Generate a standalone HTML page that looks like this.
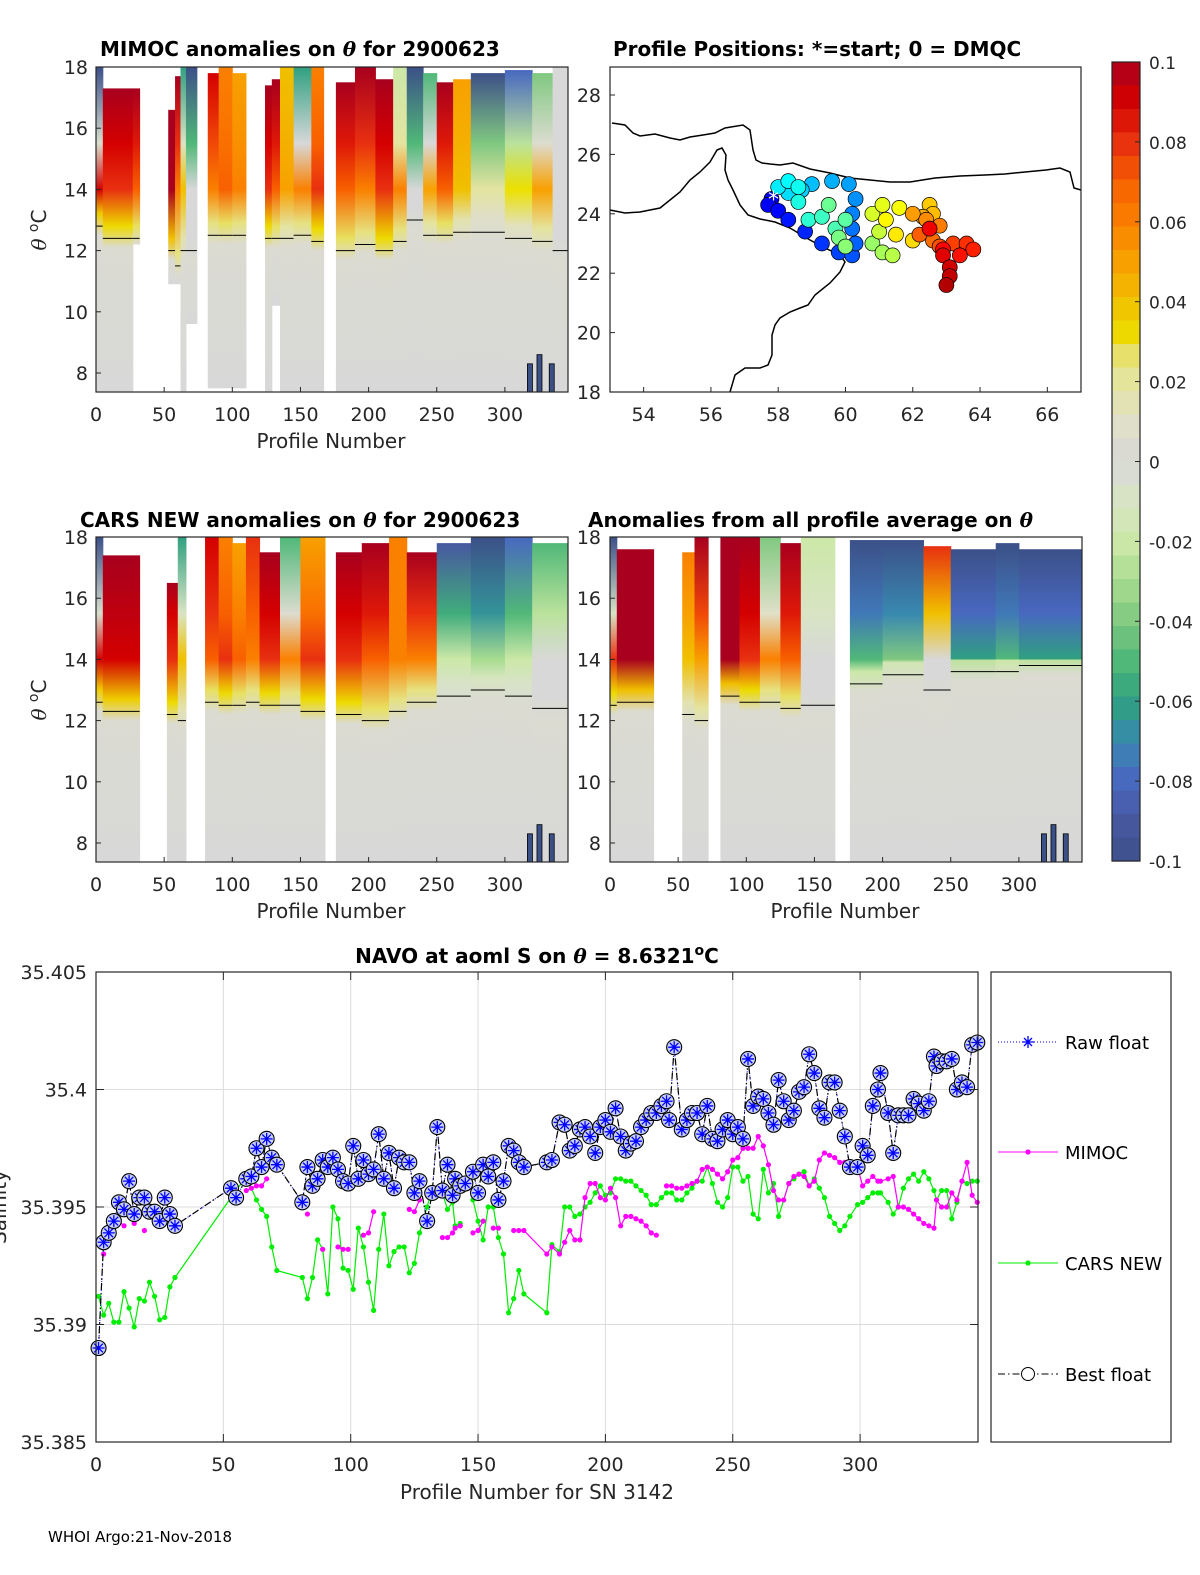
<!DOCTYPE html>
<html><head><meta charset="utf-8">
<style>
html,body{margin:0;padding:0;background:#fff;}
svg{display:block;font-family:"DejaVu Sans","Liberation Sans",sans-serif;}
</style></head>
<body>
<svg id="fig" width="1200" height="1575" viewBox="0 0 1200 1575" xmlns="http://www.w3.org/2000/svg">
<defs id="defs"></defs>
<rect x="0" y="0" width="1200" height="1575" fill="#fff"/>
<g id="g-mimoc"></g>
<g id="g-cars"></g>
<g id="g-avg"></g>
<g id="g-map"></g>
<g id="g-cbar"></g>
<g id="g-sal"></g>
<text x="100" y="56" font-size="20" font-weight="bold">MIMOC anomalies on <tspan font-style="italic" font-family="DejaVu Serif,serif">θ</tspan>  for 2900623</text>
<text x="613" y="56" font-size="20" font-weight="bold">Profile Positions: *=start; 0 = DMQC</text>
<text x="80" y="527" font-size="20" font-weight="bold">CARS NEW anomalies on <tspan font-style="italic" font-family="DejaVu Serif,serif">θ</tspan> for 2900623</text>
<text x="588" y="527" font-size="20" font-weight="bold">Anomalies from all profile average on <tspan font-style="italic" font-family="DejaVu Serif,serif">θ</tspan></text>
<text x="537" y="963" font-size="20" font-weight="bold" text-anchor="middle">NAVO at aoml S on <tspan font-style="italic" font-family="DejaVu Serif,serif">θ</tspan> = 8.6321<tspan dy="-8" font-size="14">o</tspan><tspan dy="8">C</tspan></text>
<text x="331" y="448" font-size="20" fill="#262626" text-anchor="middle">Profile Number</text>
<text x="331" y="918" font-size="20" fill="#262626" text-anchor="middle">Profile Number</text>
<text x="845" y="918" font-size="20" fill="#262626" text-anchor="middle">Profile Number</text>
<text x="537" y="1499" font-size="20" fill="#262626" text-anchor="middle">Profile Number for SN 3142</text>
<text transform="translate(46,230) rotate(-90)" font-size="20" fill="#262626" text-anchor="middle"><tspan font-style="italic" font-family="DejaVu Serif,serif">θ</tspan> <tspan dy="-8" font-size="14">o</tspan><tspan dy="8">C</tspan></text>
<text transform="translate(46,700) rotate(-90)" font-size="20" fill="#262626" text-anchor="middle"><tspan font-style="italic" font-family="DejaVu Serif,serif">θ</tspan> <tspan dy="-8" font-size="14">o</tspan><tspan dy="8">C</tspan></text>
<text transform="translate(6,1207) rotate(-90)" font-size="20" fill="#262626" text-anchor="middle">Salinity</text>
<text x="48" y="1542" font-size="15" fill="#000">WHOI Argo:21-Nov-2018</text>
</svg>
<script>
// ---------- Salinity chart data ----------
const floatProfiles=[1,3,5,7,9,11,13,15,17,19,21,23,25,27,29,31,53,55,59,61,63,65,67,69,71,81,83,85,87,89,91,93,95,97,99,101,103,105,107,109,111,113,115,117,119,121,123,125,127,130,132,134,136,138,140,141,143,145,148,150,152,154,156,158,160,162,164,166,168,177,179,182,184,186,188,190,192,194,196,198,200,202,204,206,208,210,212,214,216,218,220,222,224,225,227,230,232,234,236,238,240,242,244,246,248,250,252,254,256,258,260,262,264,266,268,270,272,274,276,278,280,282,284,286,288,290,292,294,296,299,301,303,305,307,308,311,313,315,317,319,321,323,325,327,329,330,332,334,336,338,340,342,344,346];
const floatSal=[35.3890,35.3935,35.3939,35.3944,35.3952,35.3949,35.3961,35.3947,35.3954,35.3954,35.3948,35.3948,35.3944,35.3954,35.3947,35.3942,35.3958,35.3954,35.3962,35.3963,35.3975,35.3967,35.3979,35.3971,35.3968,35.3952,35.3967,35.3959,35.3962,35.3970,35.3967,35.3971,35.3966,35.3961,35.3960,35.3976,35.3962,35.3970,35.3964,35.3966,35.3981,35.3962,35.3973,35.3958,35.3971,35.3969,35.3969,35.3956,35.3961,35.3944,35.3956,35.3984,35.3957,35.3968,35.3955,35.3962,35.3959,35.3960,35.3965,35.3956,35.3968,35.3963,35.3969,35.3953,35.3961,35.3976,35.3974,35.3969,35.3967,35.3969,35.3970,35.3986,35.3985,35.3974,35.3976,35.3983,35.3984,35.3980,35.3973,35.3984,35.3987,35.3982,35.3992,35.3980,35.3974,35.3977,35.3978,35.3984,35.3987,35.3990,35.3990,35.3993,35.3995,35.3987,35.4018,35.3983,35.3987,35.3990,35.3990,35.3981,35.3993,35.3979,35.3978,35.3983,35.3987,35.3981,35.3984,35.3979,35.4013,35.3993,35.3997,35.3996,35.3990,35.3985,35.4004,35.3995,35.3987,35.3991,35.3999,35.4001,35.4015,35.4007,35.3992,35.3988,35.4003,35.4003,35.3991,35.3980,35.3967,35.3967,35.3976,35.3972,35.3993,35.4000,35.4007,35.3990,35.3973,35.3989,35.3989,35.3989,35.3996,35.3994,35.3991,35.3995,35.4014,35.4010,35.4012,35.4012,35.4013,35.4000,35.4003,35.4001,35.4019,35.4020];
const mimocProfiles=[3,null,9,11,null,15,null,19,null,25,27,null,59,61,63,65,67,null,83,null,89,null,95,97,99,null,105,107,109,null,123,125,127,null,136,138,140,141,143,null,148,150,152,null,156,158,null,164,166,168,177,179,182,184,186,188,190,192,194,196,198,200,202,204,206,208,210,212,214,216,218,220,null,224,226,228,230,232,234,236,238,240,242,244,246,248,250,252,254,256,258,260,262,264,266,268,270,272,274,276,278,280,282,284,286,288,290,292,294,296,299,301,303,305,307,308,311,313,315,317,319,321,323,325,327,329,330,332,334,336,338,340,342,344,346];
const mimocSal=[35.3930,null,35.3944,35.3942,null,35.3943,null,35.3940,null,35.3953,35.3952,null,35.3957,35.3958,35.3959,35.3959,35.3962,null,35.3947,null,35.3932,null,35.3933,35.3932,35.3932,null,35.3938,35.3939,35.3948,null,35.3949,35.3948,35.3953,null,35.3937,35.3937,35.3939,35.3941,35.3942,null,35.3939,35.3940,35.3944,null,35.3941,35.3941,null,35.3940,35.3940,35.3940,35.3930,35.3933,35.3930,35.3935,35.3940,35.3936,35.3936,35.3954,35.3960,35.3960,35.3954,35.3953,35.3958,35.3954,35.3942,35.3946,35.3946,35.3945,35.3944,35.3942,35.3939,35.3938,null,35.3959,35.3959,35.3958,35.3958,35.3959,35.3960,35.3961,35.3966,35.3967,35.3966,35.3964,35.3962,35.3965,35.3970,35.3971,35.3975,35.3975,35.3975,35.3980,35.3976,35.3968,35.3957,35.3953,35.3953,35.3960,35.3963,35.3964,35.3963,35.3959,35.3961,35.3970,35.3973,35.3972,35.3971,35.3969,35.3969,35.3967,35.3967,35.3959,35.3961,35.3963,35.3961,35.3961,35.3962,35.3963,35.3950,35.3950,35.3949,35.3947,35.3945,35.3943,35.3942,35.3941,35.3953,35.3950,35.3950,35.3956,35.3953,35.3961,35.3969,35.3955,35.3952];
const carsProfiles=[1,3,5,7,9,11,13,15,17,19,21,23,25,27,29,31,53,59,63,65,67,69,71,81,83,85,87,89,91,93,95,97,99,101,103,105,107,109,111,113,115,117,119,121,123,125,127,130,132,134,136,138,140,141,143,null,148,150,152,154,156,158,160,162,164,166,168,177,179,182,184,186,188,190,192,194,196,198,200,202,204,206,208,210,212,214,216,218,220,222,224,226,228,230,232,234,236,238,240,242,244,246,248,250,252,254,256,258,260,262,264,266,268,270,272,274,276,278,280,282,284,286,288,290,292,294,296,299,301,303,305,307,308,311,313,315,317,319,321,323,325,327,329,330,332,334,336,338,340,342,344,346];
const carsSal=[35.3912,35.3904,35.3909,35.3901,35.3901,35.3914,35.3907,35.3899,35.3911,35.3910,35.3918,35.3912,35.3902,35.3903,35.3916,35.3920,35.3954,35.3963,35.3953,35.3949,35.3946,35.3933,35.3923,35.3920,35.3911,35.3920,35.3936,35.3932,35.3913,35.3950,35.3945,35.3924,35.3923,35.3915,35.3941,35.3933,35.3918,35.3906,35.3932,35.3947,35.3925,35.3931,35.3933,35.3933,35.3922,35.3926,35.3939,35.3950,35.3958,35.3958,35.3956,35.3949,35.3952,35.3942,35.3943,null,35.3953,35.3944,35.3936,35.3950,35.3950,35.3937,35.3930,35.3905,35.3911,35.3923,35.3913,35.3905,35.3934,35.3931,35.3950,35.3950,35.3946,35.3947,35.3950,35.3952,35.3956,35.3959,35.3955,35.3956,35.3962,35.3962,35.3961,35.3961,35.3959,35.3957,35.3955,35.3951,35.3951,35.3954,35.3956,35.3956,35.3953,35.3953,35.3956,35.3958,35.3961,35.3961,35.3967,35.3960,35.3952,35.3950,35.3954,35.3967,35.3967,35.3961,35.3963,35.3947,35.3945,35.3966,35.3956,35.3960,35.3946,35.3953,35.3960,35.3962,35.3964,35.3965,35.3959,35.3962,35.3958,35.3954,35.3946,35.3943,35.3940,35.3942,35.3946,35.3951,35.3952,35.3954,35.3956,35.3956,35.3956,35.3952,35.3947,35.3950,35.3958,35.3962,35.3964,35.3961,35.3965,35.3962,35.3957,35.3953,35.3957,35.3957,35.3945,35.3952,35.3961,35.3960,35.3961,35.3961];
const salXTicks=[0,50,100,150,200,250,300];
const salYTicks=[35.385,35.39,35.395,35.4,35.405];
const salYTickLabels=["35.385","35.39","35.395","35.4","35.405"];
const legendLabels=["Raw float","MIMOC","CARS NEW","Best float"];

// ---------- Anomaly sections: [startProfile,endProfile,anomAtTop,anomAt14C,thermoclineTheta,dataTopTheta,dataBottomTheta]
const mimocSegments=[[0,5,-0.1,0.09,12.8,18,7.4],[5,27,0.1,0.08,12.4,17.3,7.4],[27,32,0.1,0.07,12.4,17.3,12.2],[53,58,0.1,0.1,12.0,16.6,10.9],[58,62,0.1,0.06,11.5,17.7,10.9],[62,66,-0.06,0.04,12,18,7.4],[66,74,-0.1,0.0,12,18,9.6],[82,90,0.09,0.06,12.5,17.8,7.5],[90,100,0.06,0.07,12.5,18,7.5],[100,110,0.05,0.06,12.5,17.8,7.5],[124,129,0.1,0.08,12.4,17.4,7.4],[129,135,0.1,0.07,12.4,17.6,10.2],[135,145,0.04,0.05,12.4,18,7.4],[145,158,-0.06,0.06,12.5,18,7.4],[158,167,0.06,0.08,12.3,18,7.4],[176,190,0.1,0.07,12.0,17.5,7.4],[190,205,0.1,0.06,12.2,18,7.4],[205,218,0.1,0.08,12.0,17.6,7.4],[218,228,-0.02,0.06,12.3,18,7.4],[228,240,-0.1,0.0,13.0,18,7.4],[240,250,-0.05,0.05,12.5,17.8,7.4],[250,262,0.1,0.07,12.5,17.5,7.4],[262,275,0.05,0.04,12.6,17.6,7.4],[275,300,-0.1,0.02,12.6,17.8,7.4],[300,320,-0.08,0.03,12.4,17.9,7.4],[320,335,-0.04,0.05,12.3,17.8,7.4],[335,346,0.0,0.0,12.0,18,7.4]];
const carsSegments=[[0,5,-0.1,0.09,12.6,18,7.4],[5,32,0.1,0.09,12.3,17.4,7.4],[52,60,0.1,0.08,12.2,16.5,7.4],[60,66,-0.06,0.04,12,18,7.4],[80,90,0.09,0.07,12.6,18,7.4],[90,100,0.06,0.08,12.5,18,7.4],[100,110,0.05,0.07,12.5,17.8,7.4],[110,120,0.08,0.06,12.6,18,7.4],[120,135,0.1,0.08,12.5,17.5,7.4],[135,150,-0.05,0.06,12.5,18,7.4],[150,168,0.05,0.08,12.3,18,7.4],[176,195,0.1,0.08,12.2,17.5,7.4],[195,215,0.1,0.07,12.0,17.8,7.4],[215,228,0.06,0.06,12.3,18,7.4],[228,250,0.1,0.06,12.6,17.5,7.4],[250,275,-0.09,-0.02,12.8,17.8,7.4],[275,300,-0.1,-0.03,13.0,18,7.4],[300,320,-0.08,-0.02,12.8,18,7.4],[320,346,-0.05,0.0,12.4,17.8,7.4]];
const avgSegments=[[0,5,-0.1,0.08,12.5,18,7.4],[5,32,0.1,0.1,12.6,17.6,7.4],[53,62,0.06,0.04,12.2,17.5,7.4],[62,72,0.1,0.05,12,18,7.4],[81,95,0.1,0.1,12.8,18,7.4],[95,110,0.1,0.08,12.6,18,7.4],[110,125,-0.04,0.06,12.6,18,7.4],[125,140,0.1,0.07,12.4,17.8,7.4],[140,165,-0.02,0.0,12.5,18,7.4],[176,200,-0.1,-0.05,13.2,17.9,7.4],[200,230,-0.1,-0.04,13.5,17.9,7.4],[230,250,0.08,0.0,13.0,17.7,7.4],[250,283,-0.1,-0.06,13.6,17.6,7.4],[283,300,-0.1,-0.05,13.6,17.8,7.4],[300,346,-0.1,-0.06,13.8,17.6,7.4]];
const blobProfiles=[318,325,334];
const blobTopTheta=[8.3,8.6,8.3];
const sectionXTicks=[0,50,100,150,200,250,300];
const sectionYTicks=[8,10,12,14,16,18];

// ---------- Map data ----------
const trackLon=[57.8,57.7,58.0,58.3,58.8,59.3,59.8,60.2,60.3,60.2,60.2,60.3,60.1,59.6,59.0,58.7,58.3,58.0,58.3,58.6,58.6,58.9,59.3,59.7,60.0,59.5,59.8,60.0,60.8,61.1,61.4,61.0,60.8,61.1,61.6,61.2,61.5,62.0,62.5,62.6,62.3,62.0,62.4,62.8,62.6,62.2,62.8,63.2,63.6,63.8,63.4,62.9,62.5,62.9,63.1,63.1,63.0];
const trackLat=[24.5,24.3,24.1,23.8,23.4,23.0,22.7,22.6,23.0,23.5,24.0,24.5,25.0,25.1,25.0,24.8,24.7,24.9,25.1,24.9,24.4,23.8,23.9,23.5,23.8,24.3,23.2,22.9,23.0,22.7,22.6,23.4,24.0,24.3,24.2,23.8,23.3,23.1,24.3,24.0,23.9,24.0,23.8,23.6,23.1,23.3,22.9,23.0,23.0,22.8,22.6,22.8,23.5,22.6,22.2,21.9,21.6];
const mapXTicks=[54,56,58,60,62,64,66];
const mapYTicks=[18,20,22,24,26,28];
const cbarTicks=[0.1,0.08,0.06,0.04,0.02,0,-0.02,-0.04,-0.06,-0.08,-0.1];
const cbarTickLabels=["0.1","0.08","0.06","0.04","0.02","0","-0.02","-0.04","-0.06","-0.08","-0.1"];

const NS="http://www.w3.org/2000/svg";
function mk(tag,attrs,parent){const e=document.createElementNS(NS,tag);for(const k in attrs)e.setAttribute(k,attrs[k]);if(parent)parent.appendChild(e);return e;}

const cmStops=[[-0.1,[60,80,136]],[-0.09,[72,88,160]],[-0.08,[72,104,192]],[-0.07,[56,136,176]],[-0.06,[48,160,128]],[-0.05,[80,184,120]],[-0.04,[128,200,128]],[-0.03,[168,220,144]],[-0.02,[204,232,168]],[-0.01,[216,228,196]],[0,[216,216,216]],[0.01,[224,224,200]],[0.02,[228,228,160]],[0.028,[232,224,96]],[0.03,[236,224,0]],[0.04,[240,192,0]],[0.05,[248,160,0]],[0.06,[250,128,0]],[0.07,[248,96,0]],[0.08,[232,48,16]],[0.09,[212,0,0]],[0.1,[168,0,30]]];
function cmap(v){v=Math.max(-0.1,Math.min(0.1,v));for(let i=1;i<cmStops.length;i++){if(v<=cmStops[i][0]){const a=cmStops[i-1],b=cmStops[i];const t=(v-a[0])/(b[0]-a[0]);const c=a[1].map((x,j)=>Math.round(x+(b[1][j]-x)*t));return `rgb(${c[0]},${c[1]},${c[2]})`;}}return "rgb(168,0,30)";}
function jet(t){const r=Math.max(0,Math.min(1,1.5-Math.abs(4*t-3))),g=Math.max(0,Math.min(1,1.5-Math.abs(4*t-2))),b=Math.max(0,Math.min(1,1.5-Math.abs(4*t-1)));return `rgb(${Math.round(r*255)},${Math.round(g*255)},${Math.round(b*255)})`;}

const defs=document.getElementById('defs');
let gid=0;
function drawSection(gId,x0,y0,segs,prefix,yLabelX){
  const g=document.getElementById(gId);
  const W=472,H=325;
  const xs=p=>x0+p*1.363, ys=th=>y0+(18-th)*30.6;
  const yBot=y0+H;
  segs.forEach((s,i)=>{
    const [a,b,top,mid,thermo,dtop,dbot]=s;
    const yt=ys(dtop), yb=Math.min(yBot,ys(dbot));
    const id='grad'+(gid++);
    const lg=mk('linearGradient',{id:id,gradientUnits:'userSpaceOnUse',x1:0,x2:0,y1:yt,y2:yb},defs);
    const off=th=>Math.max(0,Math.min(1,(ys(th)-yt)/(yb-yt)));
    mk('stop',{offset:0,'stop-color':cmap(top)},lg);
    mk('stop',{offset:off(15.5),'stop-color':cmap((top+mid)/2)},lg);
    mk('stop',{offset:off(14),'stop-color':cmap(mid)},lg);
    mk('stop',{offset:off(thermo+0.4),'stop-color':cmap(mid*0.4)},lg);
    mk('stop',{offset:off(thermo-0.3),'stop-color':cmap(0.004)},lg);
    mk('stop',{offset:1,'stop-color':cmap(0)},lg);
    const r=mk('rect',{x:xs(a),y:yt,width:xs(b)-xs(a)+0.5,height:yb-yt,fill:`url(#${id})`},g);
    
    
    const ln=mk('line',{x1:xs(a),x2:xs(b),y1:ys(thermo),y2:ys(thermo),stroke:'#000','stroke-width':1},g);
    
    
  });
  blobProfiles.forEach((p,i)=>{
    const r=mk('rect',{x:xs(p)-2,y:ys(blobTopTheta[i]),width:5,height:yBot-ys(blobTopTheta[i]),fill:cmap(-0.1),stroke:'#000','stroke-width':0.8},g);
    
    
  });
  const box=mk('rect',{x:x0,y:y0,width:W,height:H,fill:'none',stroke:'#262626','stroke-width':1.2},g);
  
  
  sectionXTicks.forEach(t=>{
    mk('line',{x1:xs(t),x2:xs(t),y1:yBot,y2:yBot-5,stroke:'#262626'},g);
    const tx=mk('text',{x:xs(t),y:yBot+29,'font-size':19,fill:'#262626','text-anchor':'middle'},g);
    tx.textContent=t;
    
    
  });
  sectionYTicks.forEach(t=>{
    mk('line',{x1:x0,x2:x0+5,y1:ys(t),y2:ys(t),stroke:'#262626'},g);
    const tx=mk('text',{x:yLabelX,y:ys(t)+7,'font-size':19,fill:'#262626','text-anchor':'end'},g);
    tx.textContent=t;
    
    
  });
}
drawSection('g-mimoc',96,67,mimocSegments,'mimoc',88);
drawSection('g-cars',96,537,carsSegments,'cars',88);
drawSection('g-avg',610,537,avgSegments,'avg',601);

// ---------- Map ----------
(function(){
  const g=document.getElementById('g-map');
  const x0=610,y0=67,W=471,H=325;
  const xs=l=>x0+(l-53)*33.64, ys=l=>392-(l-18)*29.7;
  const north="612,123 625,125 633,133 640,136 655,134 670,138 680,140 690,137 703,135 715,133 725,128 743,125 750,130 753,150 756,160 762,163 770,164 780,165 793,163 810,169 830,173 850,178 870,180 890,182 910,182 935,178 960,176 985,175 1005,174 1025,172 1046,170 1060,168 1070,172 1074,188 1081,190";
  const south="610,210 625,213 640,212 660,208 670,200 680,192 690,180 700,172 710,162 717,150 722,148 726,155 725,170 728,180 733,190 740,205 748,215 760,219 775,222 790,228 810,240 825,248 840,255 845,262 840,272 830,283 815,295 808,305 800,308 790,312 780,318 775,325 772,335 772,355 768,365 760,368 745,368 735,375 730,392";
  [north,south].forEach((pts,i)=>{
    const p=mk('polyline',{points:pts,fill:'none',stroke:'#000','stroke-width':1.5},g);
    
    
  });
  const n=trackLon.length;
  trackLon.forEach((lo,i)=>{
    const c=mk('circle',{cx:xs(lo),cy:ys(trackLat[i]),r:7.5,fill:jet(0.1+0.85*i/(n-1)),stroke:'#000','stroke-width':0.7},g);
    
    
  });
  const st=mk('text',{x:xs(trackLon[0])+2,y:ys(trackLat[0])+8,'font-size':22,fill:'#fff','text-anchor':'middle'},g);
  st.textContent='*';
  
  
  const box=mk('rect',{x:x0,y:y0,width:W,height:H,fill:'none',stroke:'#262626','stroke-width':1.2},g);
  
  
  mapXTicks.forEach(t=>{
    mk('line',{x1:xs(t),x2:xs(t),y1:392,y2:387,stroke:'#262626'},g);
    const tx=mk('text',{x:xs(t),y:421,'font-size':19,fill:'#262626','text-anchor':'middle'},g);
    tx.textContent=t;
    
    
  });
  mapYTicks.forEach(t=>{
    mk('line',{x1:x0,x2:x0+5,y1:ys(t),y2:ys(t),stroke:'#262626'},g);
    const tx=mk('text',{x:601,y:ys(t)+7,'font-size':19,fill:'#262626','text-anchor':'end'},g);
    tx.textContent=t;
    
    
  });
})();

// ---------- Colorbar ----------
(function(){
  const g=document.getElementById('g-cbar');
  const x0=1112,y0=62,W=28,H=799;
  const ys=v=>y0+(0.1-v)/0.2*H;
  const N=34;
  for(let i=0;i<N;i++){
    const v=0.1-(i+0.5)*0.2/N;
    const r=mk('rect',{x:x0,y:y0+i*H/N,width:W,height:H/N+0.6,fill:cmap(v)},g);
    
    
  }
  const box=mk('rect',{x:x0,y:y0,width:W,height:H,fill:'none',stroke:'#262626','stroke-width':1.2},g);
  
  
  cbarTicks.forEach((t,i)=>{
    mk('line',{x1:x0+W-5,x2:x0+W,y1:ys(t),y2:ys(t),stroke:'#262626'},g);
    const tx=mk('text',{x:1149,y:ys(t)+7,'font-size':17,fill:'#262626'},g);
    tx.textContent=cbarTickLabels[i];
    
    
  });
})();

// ---------- Salinity chart ----------
(function(){
  const g=document.getElementById('g-sal');
  const x0=96,y0=972,W=882,H=470;
  const xs=p=>x0+p*2.547, ys=s=>y0+(35.405-s)*23500;
  salXTicks.forEach(t=>{ if(t>0){const l=mk('line',{x1:xs(t),x2:xs(t),y1:y0,y2:y0+H,stroke:'#dcdcdc'},g);}});
  salYTicks.forEach(t=>{const l=mk('line',{x1:x0,x2:x0+W,y1:ys(t),y2:ys(t),stroke:'#dcdcdc'},g);});
  function path(px,py){let d='',pen=false;px.forEach((p,i)=>{if(p===null||py[i]===null){pen=false;return;}d+=(pen?'L':'M')+xs(p).toFixed(1)+','+ys(py[i]).toFixed(1);pen=true;});return d;}
  const cl=mk('path',{d:path(carsProfiles,carsSal),fill:'none',stroke:'#00ee00','stroke-width':1.2},g);
  
  
  carsProfiles.forEach((p,i)=>{if(p===null)return;const c=mk('circle',{cx:xs(p),cy:ys(carsSal[i]),r:2.6,fill:'#00ee00'},g);});
  const ml=mk('path',{d:path(mimocProfiles,mimocSal),fill:'none',stroke:'#ff00ff','stroke-width':1.2},g);
  
  
  mimocProfiles.forEach((p,i)=>{if(p===null)return;const c=mk('circle',{cx:xs(p),cy:ys(mimocSal[i]),r:2.6,fill:'#ff00ff'},g);});
  const rl=mk('path',{d:path(floatProfiles,floatSal),fill:'none',stroke:'#0000ff','stroke-width':1,'stroke-dasharray':'1,2'},g);
  
  
  const bl=mk('path',{d:path(floatProfiles,floatSal),fill:'none',stroke:'#000','stroke-width':1.2,'stroke-dasharray':'7,3,1.5,3'},g);
  
  
  floatProfiles.forEach((p,i)=>{
    const cx=xs(p),cy=ys(floatSal[i]);
    const c=mk('circle',{cx:cx,cy:cy,r:7.5,fill:'#c8d0f8',stroke:'#000','stroke-width':1.1},g);
    
    
    const a=mk('path',{d:`M${cx-6},${cy}H${cx+6}M${cx},${cy-6}V${cy+6}M${cx-4.3},${cy-4.3}L${cx+4.3},${cy+4.3}M${cx-4.3},${cy+4.3}L${cx+4.3},${cy-4.3}`,stroke:'#0000ff','stroke-width':1.3},g);
    
    
  });
  const box=mk('rect',{x:x0,y:y0,width:W,height:H,fill:'none',stroke:'#262626','stroke-width':1.2},g);
  
  
  salXTicks.forEach(t=>{
    mk('line',{x1:xs(t),x2:xs(t),y1:y0+H,y2:y0+H-8,stroke:'#262626'},g);
    mk('line',{x1:xs(t),x2:xs(t),y1:y0,y2:y0+8,stroke:'#262626'},g);
    const tx=mk('text',{x:xs(t),y:y0+H+29,'font-size':19,fill:'#262626','text-anchor':'middle'},g);
    tx.textContent=t;
    
    
  });
  salYTicks.forEach((t,i)=>{
    mk('line',{x1:x0,x2:x0+8,y1:ys(t),y2:ys(t),stroke:'#262626'},g);
    mk('line',{x1:x0+W,x2:x0+W-8,y1:ys(t),y2:ys(t),stroke:'#262626'},g);
    const tx=mk('text',{x:87,y:ys(t)+7,'font-size':19,fill:'#262626','text-anchor':'end'},g);
    tx.textContent=salYTickLabels[i];
    
    
  });
  const lg=mk('g',{},g);
  
  
  const lb=mk('rect',{x:991,y:972,width:180,height:470,fill:'#fff',stroke:'#262626','stroke-width':1.2},lg);
  
  
  const ly=[1042,1152,1263,1374];
  legendLabels.forEach((lab,i)=>{
    const y=ly[i];
    const e=mk('g',{},lg);
    
    
    if(i===0){mk('line',{x1:998,x2:1058,y1:y,y2:y,stroke:'#0000ff','stroke-dasharray':'1,2'},e);mk('path',{d:`M1022,${y}H1034M1028,${y-6}V${y+6}M1024,${y-4}L1032,${y+4}M1024,${y+4}L1032,${y-4}`,stroke:'#0000ff','stroke-width':1.3},e);}
    if(i===1){mk('line',{x1:998,x2:1058,y1:y,y2:y,stroke:'#ff00ff'},e);mk('circle',{cx:1028,cy:y,r:2.6,fill:'#ff00ff'},e);}
    if(i===2){mk('line',{x1:998,x2:1058,y1:y,y2:y,stroke:'#00ee00'},e);mk('circle',{cx:1028,cy:y,r:2.6,fill:'#00ee00'},e);}
    if(i===3){mk('line',{x1:998,x2:1058,y1:y,y2:y,stroke:'#000','stroke-dasharray':'7,3,1.5,3'},e);mk('circle',{cx:1028,cy:y,r:6.5,fill:'#fff',stroke:'#000'},e);}
    const tx=mk('text',{x:1065,y:y+7,'font-size':18,fill:'#000'},e);
    tx.textContent=lab;
    
    
  });
})();
</script>
</body></html>
